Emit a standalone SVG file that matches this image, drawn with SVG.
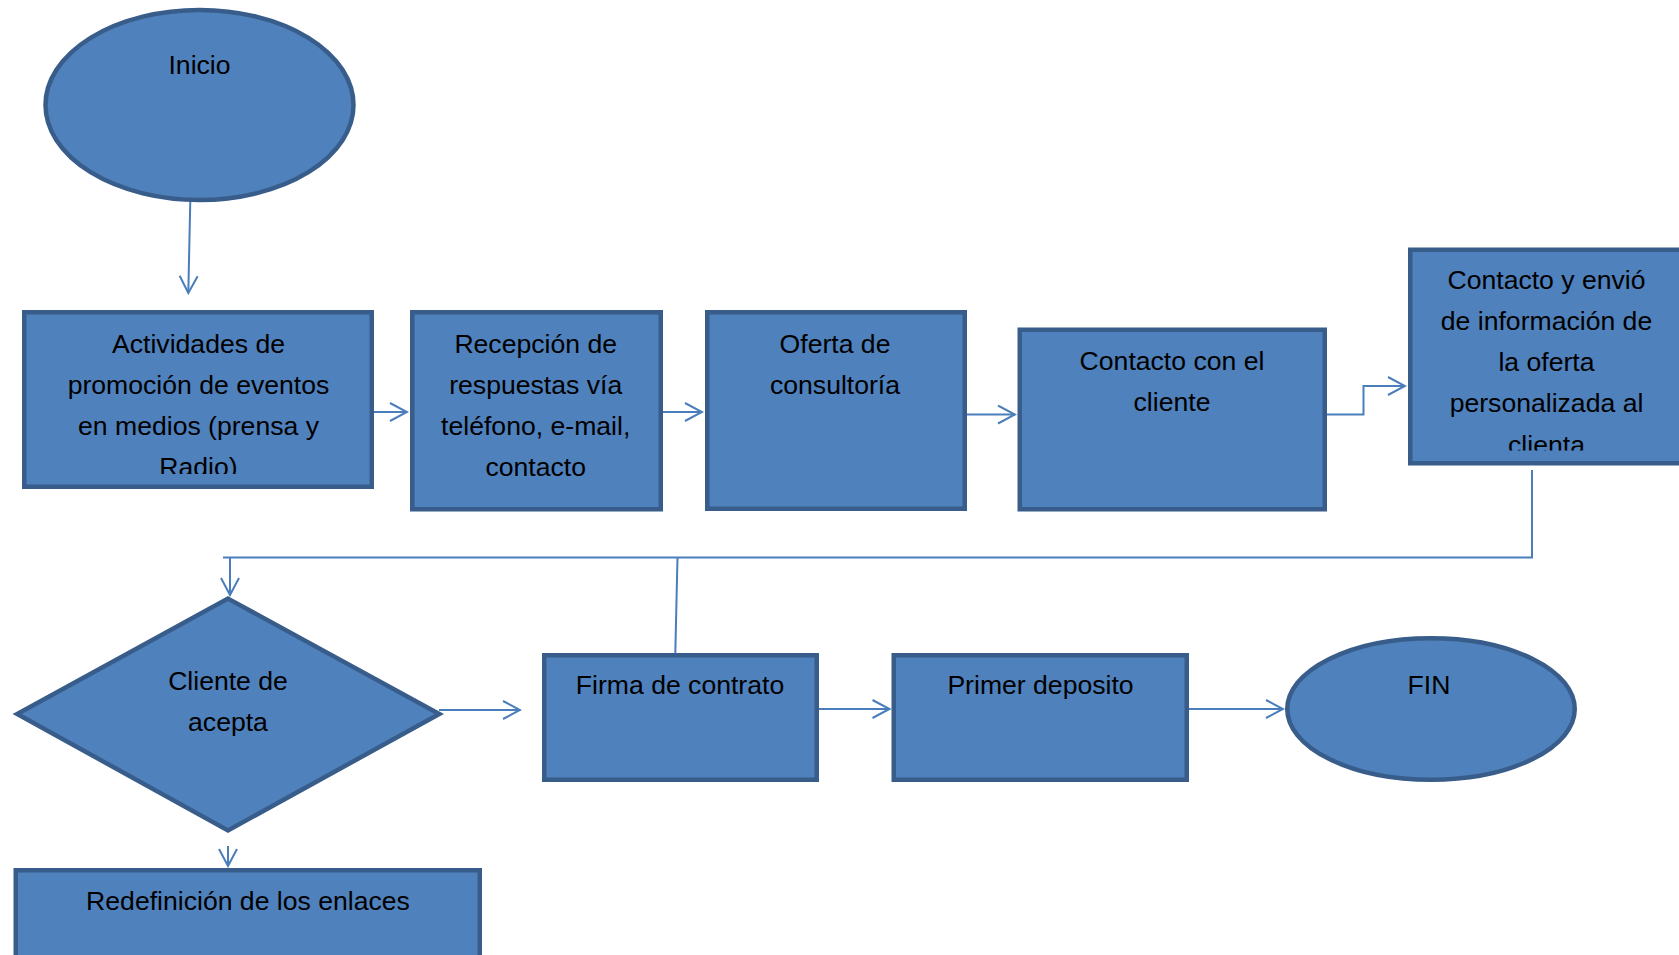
<svg xmlns="http://www.w3.org/2000/svg" width="1679" height="955" viewBox="0 0 1679 955">
  <style>
    .shape { fill: #4f81bd; stroke: #385d8a; stroke-width: 4.5; }
    .lbl { font-family: "Liberation Sans", Arial, sans-serif; font-size: 26.6px; fill: #000; text-anchor: middle; }
    .conn { fill: none; stroke: #4a7ebb; stroke-width: 2; }
    .arrow { marker-end: url(#head); }
  </style>
  <defs>
    <marker id="head" viewBox="0 0 20 20" refX="18" refY="10" markerWidth="20" markerHeight="20" markerUnits="userSpaceOnUse" orient="auto">
      <path d="M1,1 L18,10 L1,19" fill="none" stroke="#4a7ebb" stroke-width="2"/>
    </marker>
    <clipPath id="clip-actividades"><rect x="26" y="314" width="344" height="160"/></clipPath>
    <clipPath id="clip-envio"><rect x="1412" y="252" width="267" height="198.5"/></clipPath>
  </defs>

  <rect width="1679" height="955" fill="#fff"/>

  <!-- connectors -->
  <g id="connectors">
    <path class="conn arrow" d="M190.7,182 L188.3,293"/>
    <path class="conn arrow" d="M374,412 L407,412"/>
    <path class="conn arrow" d="M663,412 L702,412"/>
    <path class="conn arrow" d="M967,414.5 L1015,414.5"/>
    <path class="conn arrow" d="M1327,414.5 L1363.5,414.5 L1363.5,386 L1405,386"/>
    <path class="conn" d="M1532,470 L1532,557.5 L223,557.5"/>
    <path class="conn arrow" d="M230,557.5 L230,595"/>
    <path class="conn" d="M677.5,557.5 L675.3,653"/>
    <path class="conn arrow" d="M439,710 L520,710"/>
    <path class="conn arrow" d="M819,709 L889.5,709"/>
    <path class="conn arrow" d="M1189,709 L1283,709"/>
    <path class="conn arrow" d="M228,846 L228,866"/>
  </g>

  <g id="inicio">
    <ellipse class="shape" cx="199.5" cy="105" rx="154" ry="95"/>
    <text class="lbl" x="199.5" y="74">Inicio</text>
  </g>

  <g id="actividades">
    <rect class="shape" x="24.25" y="312.25" width="347.5" height="174.5"/>
    <g clip-path="url(#clip-actividades)">
      <text class="lbl" x="198.5" y="352.7">Actividades de</text>
      <text class="lbl" x="198.5" y="393.5">promoción de eventos</text>
      <text class="lbl" x="198.5" y="434.5">en medios (prensa y</text>
      <text class="lbl" x="198.5" y="475.5">Radio)</text>
    </g>
  </g>

  <g id="recepcion">
    <rect class="shape" x="412.25" y="312.25" width="248.5" height="197"/>
    <text class="lbl" x="535.7" y="352.7">Recepción de</text>
    <text class="lbl" x="535.7" y="393.5">respuestas vía</text>
    <text class="lbl" x="535.7" y="434.5">teléfono, e-mail,</text>
    <text class="lbl" x="535.7" y="475.5">contacto</text>
  </g>

  <g id="oferta">
    <rect class="shape" x="707.25" y="312.25" width="257.5" height="196.5"/>
    <text class="lbl" x="835" y="352.7">Oferta de</text>
    <text class="lbl" x="835" y="393.5">consultoría</text>
  </g>

  <g id="contacto-cliente">
    <rect class="shape" x="1019.75" y="329.75" width="305" height="179.5"/>
    <text class="lbl" x="1172" y="369.5">Contacto con el</text>
    <text class="lbl" x="1172" y="410.5">cliente</text>
  </g>

  <g id="contacto-envio">
    <rect class="shape" x="1410.25" y="249.75" width="290" height="213.5"/>
    <g clip-path="url(#clip-envio)">
      <text class="lbl" x="1546.5" y="289">Contacto y envió</text>
      <text class="lbl" x="1546.5" y="330">de información de</text>
      <text class="lbl" x="1546.5" y="371">la oferta</text>
      <text class="lbl" x="1546.5" y="412">personalizada al</text>
      <text class="lbl" x="1546.5" y="454">clienta</text>
    </g>
  </g>

  <g id="decision">
    <polygon class="shape" points="228,598.6 439.3,714 228,830.4 17.2,714"/>
    <text class="lbl" x="228" y="690">Cliente de</text>
    <text class="lbl" x="228" y="730.5">acepta</text>
  </g>

  <g id="firma">
    <rect class="shape" x="544.25" y="655.25" width="272.5" height="124.5"/>
    <text class="lbl" x="680" y="694">Firma de contrato</text>
  </g>

  <g id="deposito">
    <rect class="shape" x="893.75" y="655.25" width="293" height="124.5"/>
    <text class="lbl" x="1040.5" y="694">Primer deposito</text>
  </g>

  <g id="fin">
    <ellipse class="shape" cx="1431" cy="709" rx="143.75" ry="70.75"/>
    <text class="lbl" x="1429" y="694">FIN</text>
  </g>

  <g id="redefinicion">
    <rect class="shape" x="15.75" y="870.25" width="464" height="100"/>
    <text class="lbl" x="248" y="910">Redefinición de los enlaces</text>
  </g>
</svg>
